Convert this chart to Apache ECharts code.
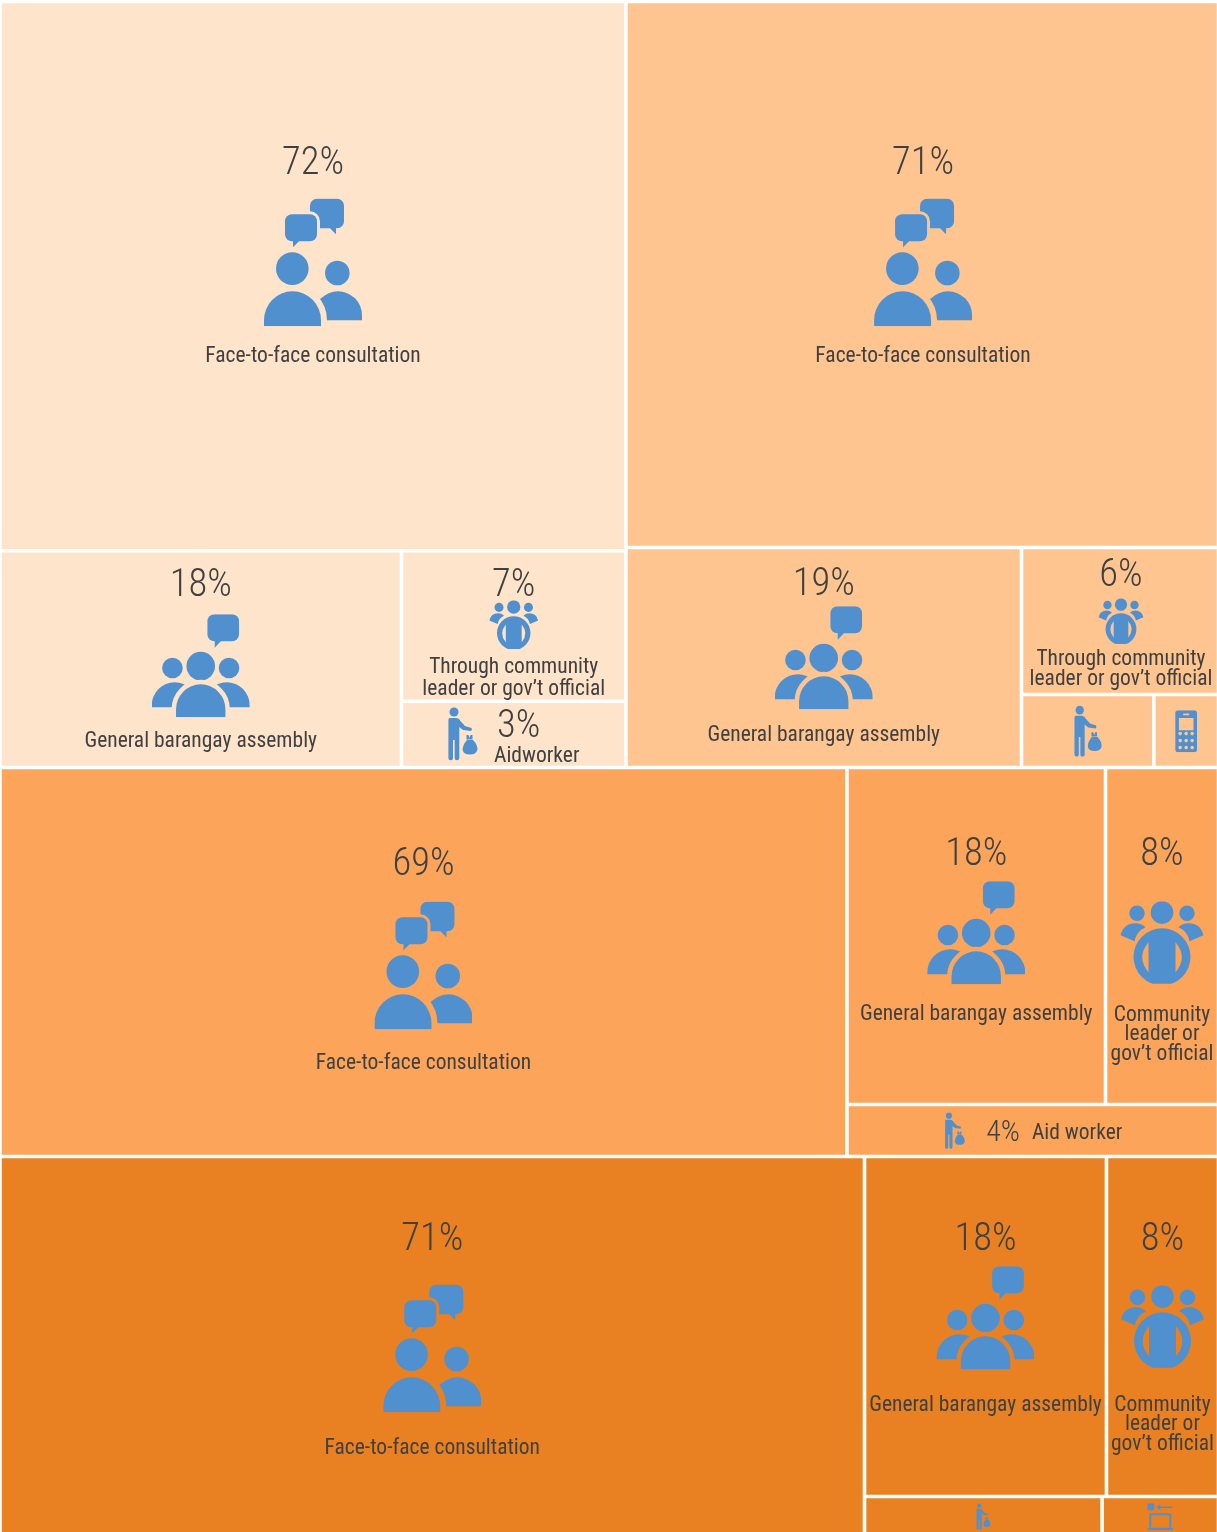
<!DOCTYPE html>
<html>
<head>
<meta charset="utf-8">
<style>html,body{margin:0;padding:0;background:#fff}#c{width:1217px;height:1532px}</style>
<script src="https://cdn.jsdelivr.net/npm/echarts@6/dist/echarts.min.js"></script>
</head>
<body>
<div id="c"></div>
<script>
// ---- data (share of answers, % of each group's area) ----
var groupAShares = [71.7, 18.15, 7.05, 3.1];
var groupBShares = [71.28, 19.17, 6.38, 2.13, 1.04];
var groupCShares = [69.5, 18.38, 8.03, 4.08];
var groupDShares = [70.95, 17.86, 8.27, 1.96, 0.96];
var groupAPct = ['72%', '18%', '7%', '3%'];
var groupBPct = ['71%', '19%', '6%'];
var groupCPct = ['69%', '18%', '8%', '4%'];
var groupDPct = ['71%', '18%', '8%'];
var faceName = 'Face-to-face consultation';
var assemblyName = 'General barangay assembly';
var communityLong = ['Through community', 'leader or gov\u2019t official'];
var communityShort = ['Community', 'leader or', 'gov\u2019t official'];
var aidOneWord = 'Aidworker';
var aidTwoWords = 'Aid worker';

// ---- styling ----
var colA = '#FEE4CA', colB = '#FEC591', colC = '#FCA55A', colD = '#E98122';
var BLUE = '#5090CE', TEXT = '#404040';
var FONT = 'Roboto';

function svgUri(w, h, body) {
  return 'data:image/svg+xml;charset=utf-8,' + encodeURIComponent(
    '<svg xmlns="http://www.w3.org/2000/svg" width="' + w + '" height="' + h + '" viewBox="0 0 ' + w + ' ' + h + '">' + body + '</svg>');
}
var ICONS = {
  face: { w: 98, h: 128, draw: function (bg) {
    return '<g fill="' + BLUE + '">' +
      '<path d="M53 0.5H73a7 7 0 0 1 7 7V23a7 7 0 0 1-7 7H72L72 36L66 30H53a7 7 0 0 1-7-7V7.5a7 7 0 0 1 7-7Z"/>' +
      '<rect x="21" y="16" width="32" height="27" rx="7" stroke="' + bg + '" stroke-width="6" paint-order="stroke"/>' +
      '<path d="M29 42L29 49L36 42Z"/>' +
      '<circle cx="28.3" cy="70.3" r="16.3"/><circle cx="73.3" cy="74.7" r="12.3"/>' +
      '<path d="M50 122V117A24 24 0 0 1 98 117V122Z"/>' +
      '<path d="M0 128V122A28.5 29 0 0 1 57 122V128Z" stroke="' + bg + '" stroke-width="12" paint-order="stroke"/>' +
      '</g>'; } },
  assembly: { w: 98, h: 103, draw: function (bg) {
    return '<g fill="' + BLUE + '">' +
      '<rect x="55.7" y="0" width="31.6" height="27" rx="7"/><path d="M63 26L63 33.5L70 26Z"/>' +
      '<circle cx="49" cy="51.7" r="14.3"/><circle cx="20.7" cy="53.7" r="10.3"/><circle cx="77.3" cy="53.7" r="10.3"/>' +
      '<path d="M0 93V91A23 23 0 0 1 46 91V93Z"/><path d="M52 93V91A23 23 0 0 1 98 91V93Z"/>' +
      '<path d="M24.3 103V95A24.7 25 0 0 1 73.7 95V103Z" stroke="' + bg + '" stroke-width="9" paint-order="stroke"/>' +
      '</g>'; } },
  community: { w: 85, h: 83, draw: function (bg) {
    return '<defs><clipPath id="k"><rect x="0" y="0" width="85" height="82.5"/></clipPath></defs>' +
      '<g fill="' + BLUE + '">' +
      '<circle cx="42.5" cy="11.3" r="11.3"/><circle cx="17.5" cy="12" r="7.7"/><circle cx="67.5" cy="12" r="7.7"/>' +
      '<path d="M1 34Q4 22 16 22Q22 22 26 26Q17 30 15 40Z"/><path d="M84 34Q81 22 69 22Q63 22 59 26Q68 30 70 40Z"/>' +
      '<circle cx="42.5" cy="55.5" r="28.5" clip-path="url(#k)"/>' +
      '</g><g fill="' + bg + '"><path d="M29 41Q16.4 56 29 71Z"/><path d="M56 41Q68.6 56 56 71Z"/></g>'; } },
  aid: { w: 31, h: 54, draw: function () {
    return '<g fill="' + BLUE + '"><circle cx="7" cy="5" r="4.5"/>' +
      '<path d="M3 11H9Q12 11 13.5 14L18 19L24.5 21Q25.5 23 24 24L16 23L12.3 20V51a2.3 2.3 0 0 1-4.6 0V33H6V51a2.3 2.3 0 0 1-4.6 0V13Q1.3 11 3 11Z"/>' +
      '<path d="M19.5 28h2l1 3 1-3h2v4.5h-6Z"/>' +
      '<path d="M20 33H26Q31 38 30.3 43Q29 47.5 23 47.5Q16.5 47.5 15.7 43Q15.5 38 20 33Z"/></g>'; } },
  phone: { w: 22, h: 42, draw: function (bg) {
    var dots = '', xs = [5, 11, 17], ys = [23.3, 30.3, 37.3];
    xs.forEach(function (x) { ys.forEach(function (y) { dots += '<circle cx="' + x + '" cy="' + y + '" r="1.8"/>'; }); });
    return '<rect x="0" y="0" width="22" height="42" rx="3" fill="' + BLUE + '"/>' +
      '<g fill="' + bg + '"><rect x="3.7" y="7.7" width="14.6" height="12.3"/><rect x="8" y="3.3" width="6" height="1.7"/>' + dots + '</g>'; } },
  tv: { w: 26, h: 27, draw: function () {
    return '<g fill="' + BLUE + '"><rect x="0" y="0" width="7" height="7" rx="1.5"/>' +
      '<path d="M9 4L13 1V3.2H25V4.8H13V7Z"/>' +
      '<path d="M2 10H24V24H22V12H4V24H2Z"/><rect x="0" y="24.5" width="26" height="2.5" rx="0.8"/></g>'; } }
};

function iconUri(kind, bg, w, h, pad) {
  var ic = ICONS[kind];
  var body = '<g transform="scale(' + (w / ic.w) + ',' + (h / ic.h) + ')">' + ic.draw(bg) + '</g>';
  return svgUri(w, h + (pad || 0), body);
}

// builds a rich-text label out of lines; each line is a list of parts
function makeLabel(lines, bg, dx, dy) {
  var rich = {}, n = 0, rows = [];
  lines.forEach(function (line) {
    var row = '';
    line.forEach(function (p) {
      var key = 't' + (n++);
      if (p.icon) {
        var fullH = p.h + (p.pad || 0);
        rich[key] = { width: p.w, height: fullH, lineHeight: fullH, backgroundColor: { image: iconUri(p.icon, bg, p.w, p.h, p.pad) } };
        row += '{' + key + '|}';
      } else if (p.space !== undefined || p.gap !== undefined) {
        rich[key] = { width: p.space || 1, height: p.gap || 1, lineHeight: p.gap || 1 };
        row += '{' + key + '|}';
      } else {
        rich[key] = { fontFamily: FONT, fontStyle: 'condensed', fontWeight: p.weight || 400, fontSize: p.size, lineHeight: p.h, color: TEXT };
        row += '{' + key + '|' + p.text + '}';
      }
    });
    rows.push(row);
  });
  var text = rows.join('\n');
  return {
    show: true, position: 'inside', overflow: 'none', padding: 0, distance: 0,
    align: 'center', verticalAlign: 'middle', offset: [dx || 0, dy || 0],
    formatter: function () { return text; }, rich: rich
  };
}
function P(t, h, s) { return { text: t, h: h, size: s || 38.5, weight: 350 }; }
function N(t, h) { return { text: t, h: h, size: 21.5 }; }
function I(k, w, h, pad) { return { icon: k, w: w, h: h, pad: pad }; }
function G(g) { return { gap: g }; }
function S(s) { return { space: s }; }

var B_BORDER = { borderWidth: 1.8, borderColor: '#ffffff', gapWidth: 0 };
function leaf(value, color, label) {
  return {
    value: value,
    itemStyle: Object.assign({ color: color }, B_BORDER),
    label: label
  };
}
function group(children) {
  return { children: children, itemStyle: { borderWidth: 0, gapWidth: 0, color: '#ffffff' }, label: { show: false } };
}
function tm(box, ratio, data) {
  return Object.assign({
    type: 'treemap', sort: false, roam: false, nodeClick: false, silent: true,
    breadcrumb: { show: false }, visibleMin: 0, squareRatio: ratio, animation: false,
    itemStyle: { borderWidth: 0, gapWidth: 0, borderColor: '#fff' },
    upperLabel: { show: false },
    data: data
  }, box);
}
var GOLD = 0.5 * (1 + Math.sqrt(5));

var seriesA = tm({ left: 0, top: 1.5, width: 626, height: 766 }, GOLD, [
  leaf(groupAShares[0], colA, makeLabel([[P(groupAPct[0], 68)], [I('face', 98, 128)], [N(faceName, 60)]], colA, 0, 127)),
  group([
    leaf(groupAShares[1], colA, makeLabel([[P(groupAPct[1], 56)], [I('assembly', 98, 103)], [N(assemblyName, 48)]], colA, 0, 5.8)),
    group([
      leaf(groupAShares[2], colA, makeLabel([[P(groupAPct[2], 28)], [I('community', 50, 49)], [G(7)], [N(communityLong[0], 22)], [N(communityLong[1], 22)]], colA, 0, 19.8)),
      leaf(groupAShares[3], colA, makeLabel([[P(groupAPct[3], 38), S(36)], [N(aidOneWord, 22)]], colA, 23, 5))
    ])
  ])
]);
var seriesB = tm({ left: 626, top: 1.5, width: 592.5, height: 766 }, 1.4, [
  leaf(groupBShares[0], colB, makeLabel([[P(groupBPct[0], 68)], [I('face', 98, 128)], [N(faceName, 60)]], colB, 0.8, 127)),
  group([
    leaf(groupBShares[1], colB, makeLabel([[P(groupBPct[1], 42)], [I('assembly', 98, 103)], [N(assemblyName, 52)]], colB, 0, 15)),
    group([
      leaf(groupBShares[2], colB, makeLabel([[P(groupBPct[2], 44)], [I('community', 46, 46)], [G(5)], [N(communityLong[0], 20)], [N(communityLong[1], 20)]], colB, 1, 5)),
      group([
        leaf(groupBShares[3], colB, makeLabel([[I('aid', 29, 52)]], colB, 0, 9)),
        leaf(groupBShares[4], colB, makeLabel([[I('phone', 22, 42)]], colB, 0, 14))
      ])
    ])
  ])
]);
var seriesC = tm({ left: 0, top: 767.5, width: 1218.5, height: 389 }, GOLD, [
  leaf(groupCShares[0], colC, makeLabel([[P(groupCPct[0], 72)], [I('face', 98, 128)], [N(faceName, 68)]], colC, 0, 60)),
  group([
    group([
      leaf(groupCShares[1], colC, makeLabel([[P(groupCPct[1], 52)], [I('assembly', 98, 103)], [N(assemblyName, 60)]], colC, 0, 60)),
      leaf(groupCShares[2], colC, makeLabel([[P(groupCPct[2], 92)], [I('community', 85, 83)], [G(21.5)], [N(communityShort[0], 19.5)], [N(communityShort[1], 19.5)], [N(communityShort[2], 19.5)]], colC, 0, 40))
    ]),
    leaf(groupCShares[3], colC, makeLabel([[I('aid', 21, 37, 6), S(21), P(groupCPct[3], 40, 30), S(12), N(aidTwoWords, 22)]], colC, 0.5, 6))
  ])
]);
var seriesD = tm({ left: 0, top: 1156.5, width: 1218.5, height: 378 }, 1.3, [
  leaf(groupDShares[0], colD, makeLabel([[P(groupDPct[0], 88)], [I('face', 98, 128)], [N(faceName, 72)]], colD, 0, 38)),
  group([
    group([
      leaf(groupDShares[1], colD, makeLabel([[P(groupDPct[1], 52)], [I('assembly', 98, 103)], [N(assemblyName, 72)]], colD, 0, 56)),
      leaf(groupDShares[2], colD, makeLabel([[P(groupDPct[2], 90)], [I('community', 85, 83)], [G(27.5)], [N(communityShort[0], 19.5)], [N(communityShort[1], 19.5)], [N(communityShort[2], 19.5)]], colD, 0, 37))
    ]),
    group([
      leaf(groupDShares[3], colD, makeLabel([[I('aid', 15, 27)]], colD, 0, 5)),
      leaf(groupDShares[4], colD, makeLabel([[I('tv', 26, 27)]], colD, 0, 5))
    ])
  ])
]);

var chart = echarts.init(document.getElementById('c'), null, { renderer: 'canvas' });
chart.setOption({
  backgroundColor: '#ffffff',
  animation: false,
  tooltip: { show: false },
  graphic: [{ type: 'image', z: 100, silent: true, style: { image: iconUri('aid', colA, 31, 54), x: 447, y: 707, width: 31, height: 54 } }],
  series: [seriesA, seriesB, seriesC, seriesD]
});
</script>
</body>
</html>
